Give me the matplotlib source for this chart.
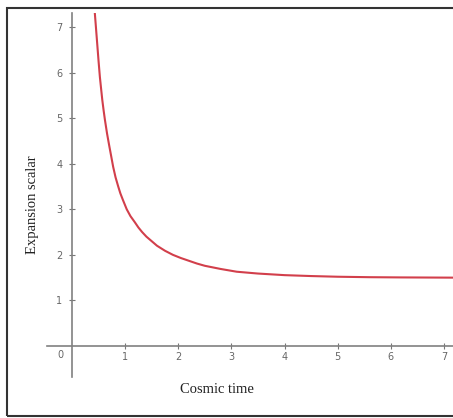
import numpy as np
import matplotlib
matplotlib.use("Agg")
import matplotlib.pyplot as plt
from matplotlib.patches import Rectangle

# values
cosmic_time = [0.43, 0.45, 0.48, 0.50, 0.525, 0.55, 0.57, 0.595, 0.62, 0.66,
               0.70, 0.74, 0.775, 0.82, 0.87, 0.91, 0.96, 1.03, 1.1, 1.18,
               1.25, 1.32, 1.4, 1.5, 1.6, 1.75, 1.9, 2.05, 2.2, 2.35,
               2.5, 2.8, 3.1, 3.5, 4.0, 4.5, 5.0, 5.6, 6.2, 7.2]
expansion = [7.3, 7.0, 6.55, 6.25, 5.9, 5.62, 5.4, 5.17, 4.96, 4.66,
             4.4, 4.15, 3.93, 3.7, 3.5, 3.35, 3.2, 3.0, 2.85, 2.72,
             2.6, 2.5, 2.4, 2.3, 2.2, 2.09, 2.0, 1.93, 1.87, 1.81,
             1.76, 1.69, 1.63, 1.59, 1.555, 1.535, 1.52, 1.51, 1.505, 1.5]
x_ticks = [1, 2, 3, 4, 5, 6, 7]
y_ticks = [1, 2, 3, 4, 5, 6, 7]
origin_label = "0"

fig = plt.figure(figsize=(4.53, 4.18), dpi=100)
fig.patch.set_facecolor("white")

# outer frame (runs off the right edge like the scanned figure)
fig.patches.append(Rectangle((7 / 453, 2 / 418), 1.2, 408 / 418,
                             transform=fig.transFigure, fill=False,
                             edgecolor="#333333", linewidth=1.5))

ax = fig.add_axes([0.1038, 0.0981, 0.8962, 0.870])
ax.plot(cosmic_time, expansion, color="#d23f4b", linewidth=1.5)

ax.set_xlim(-0.47, 7.17)
ax.set_ylim(-0.68, 7.3)

for side in ["top", "right"]:
    ax.spines[side].set_visible(False)
for side in ["left", "bottom"]:
    ax.spines[side].set_position(("data", 0))
    ax.spines[side].set_color("#808080")
    ax.spines[side].set_linewidth(1.2)

ax.set_xticks(x_ticks)
ax.set_yticks(y_ticks)
ax.tick_params(direction="inout", length=4, width=0.8, color="#777777",
               labelcolor="#666666", labelsize=7)
ax.tick_params(axis="y", pad=5)
ax.tick_params(axis="x", pad=2.5)

ax.annotate(origin_label, (0, 0), xytext=(-8, -6.5), textcoords="offset points",
            ha="center", va="center", fontsize=7, color="#666666")

serif = ["Liberation Serif", "DejaVu Serif"]
fig.text(0.0728, 0.5096, "Expansion scalar", rotation=90, ha="center",
         va="center", family=serif, fontsize=10.5, color="#222222")
fig.text(0.479, 0.067, "Cosmic time", ha="center", va="center",
         family=serif, fontsize=10.5, color="#222222")

fig.savefig("out.png", dpi=100)
